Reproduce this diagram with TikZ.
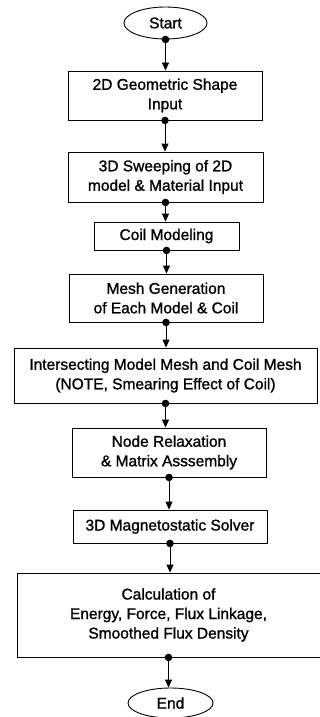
\documentclass[tikz,border=0pt]{standalone}
\usepackage{fontspec}
\setmainfont[FakeBold=1.2]{Liberation Sans}
\usetikzlibrary{shapes.geometric,arrows.meta}
\begin{document}
\begin{tikzpicture}[x=1pt,y=-1pt,
  every node/.style={font=\fontsize{15.5}{19.5}\selectfont, align=center, inner sep=0pt},
  procbox/.style={draw, line width=0.9pt, rectangle},
  term/.style={draw, line width=0.9pt, ellipse},
  conn/.style={line width=0.9pt, -{Triangle[length=8pt,width=7pt]}},
  dotc/.style={fill=black}]
\useasboundingbox (0,0) rectangle (320,717);
\node[term, minimum width=83pt, minimum height=32pt] (start) at (165.5,23) {Start};
\node[procbox, minimum width=194pt, minimum height=49pt] (b1) at (165,95.5) {2D Geometric Shape\\Input};
\node[procbox, minimum width=195pt, minimum height=50pt] (b2) at (165.5,177) {3D Sweeping of 2D\\model \& Material Input};
\node[procbox, minimum width=145pt, minimum height=28pt] (b3) at (166.5,236) {Coil Modeling};
\node[procbox, minimum width=194pt, minimum height=48pt] (b4) at (166,298) {Mesh Generation\\of Each Model \& Coil};
\node[procbox, minimum width=303pt, minimum height=55pt] (b5) at (165.5,375.5) {Intersecting Model Mesh and Coil Mesh\\(NOTE, Smearing Effect of Coil)};
\node[procbox, minimum width=194pt, minimum height=49pt] (b6) at (169,452.5) {Node Relaxation\\\& Matrix Asssembly};
\node[procbox, minimum width=194pt, minimum height=33pt] (b7) at (170,526.5) {3D Magnetostatic Solver};
\node[procbox, minimum width=303pt, minimum height=84pt] (b8) at (168.5,615) {Calculation of\\Energy, Force, Flux Linkage,\\Smoothed Flux Density};
\node[term, minimum width=85pt, minimum height=30pt] (end) at (170.5,703) {End};
\foreach \a/\b in {start/b1,b1/b2,b2/b3,b3/b4,b4/b5,b5/b6,b6/b7,b7/b8,b8/end}{
  \draw[conn] (\a.south) -- (\a.south |- \b.north);
  \fill[dotc] (\a.south) circle (3.8pt);
}
\end{tikzpicture}
\end{document}
